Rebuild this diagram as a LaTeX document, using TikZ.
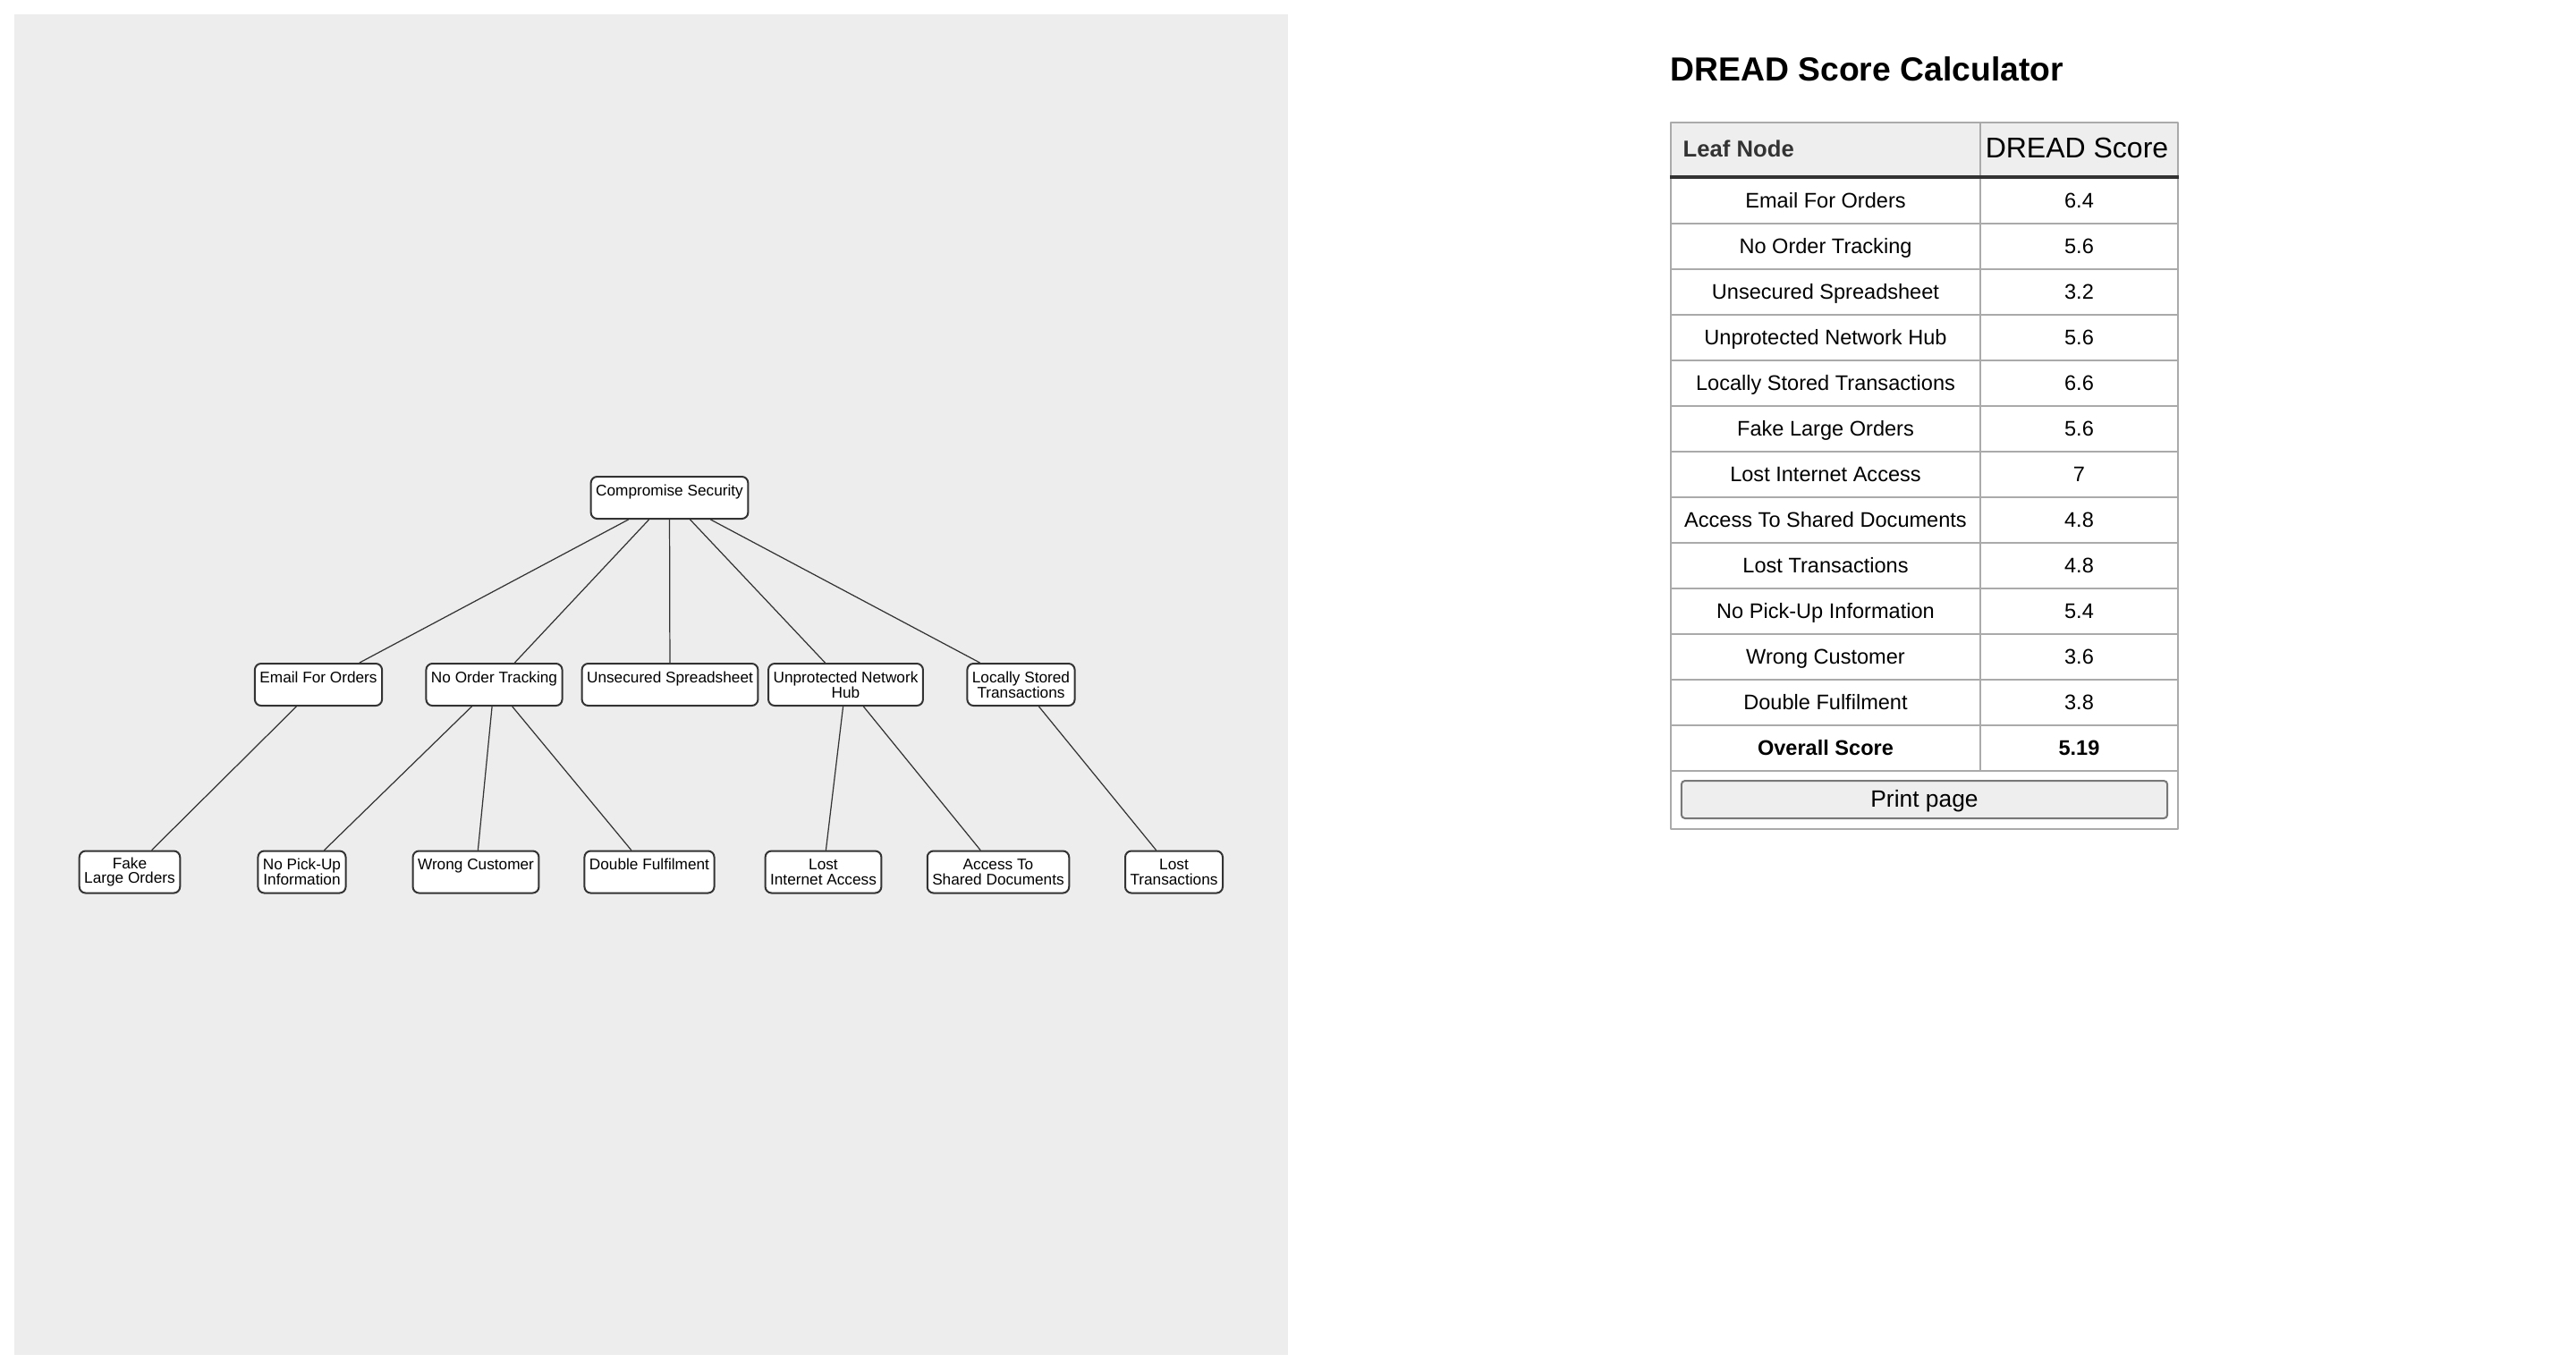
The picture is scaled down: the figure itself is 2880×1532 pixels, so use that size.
\documentclass[tikz,border=0pt]{standalone}
\usepackage{fontspec}
\setmainfont{Liberation Sans}
\usepackage{xcolor}
\definecolor{panelgray}{HTML}{EDEDED}
\definecolor{boxline}{HTML}{333333}
\definecolor{gridgray}{HTML}{AAAAAA}
\definecolor{headgray}{HTML}{EEEEEE}
\definecolor{btnline}{HTML}{777777}
\newcommand{\treefont}{\fontsize{4.9pt}{4.75pt}\selectfont}
\newcommand{\cellfont}{\fontsize{6.7pt}{8pt}\selectfont}

\begin{document}
\begin{tikzpicture}[x=0.01cm, y=-0.01cm, line cap=round, line join=round]
    \tikzset{
      leaf/.style={draw=boxline, line width=0.57pt, fill=white, rounded corners=0.07cm,
        align=center, font=\treefont, inner xsep=0.055cm, inner ysep=0pt, minimum height=0.47cm},
      edge/.style={draw=boxline, line width=0.35pt},
      cell/.style={draw=gridgray, line width=0.57pt, inner sep=0pt, minimum height=0.51cm,
        font=\cellfont, text height=5pt, text depth=0.33pt},
      colA/.style={cell, minimum width=3.46cm},
      colB/.style={cell, minimum width=2.21cm}
    }
    \useasboundingbox (0,0) rectangle (2880,1532);
    \fill[panelgray] (16,16) rectangle (1440,1515);

    % attack tree
    \node[leaf] (root)    at (748.5,556.5) {Compromise Security\\~};

    \node[leaf] (email)   at (356,765.5)   {Email For Orders\\~};
    \node[leaf] (track)   at (552.5,765.5) {No Order Tracking\\~};
    \node[leaf] (sheet)   at (749,765.5)   {Unsecured Spreadsheet\\~};
    \node[leaf] (hub)     at (945.5,765.5) {Unprotected Network\\Hub};
    \node[leaf] (local)   at (1141.5,765.5) {Locally Stored\\Transactions};

    \node[leaf] (fake)    at (145,975)     {Fake\\Large Orders};
    \node[leaf] (pickup)  at (337.5,975)   {No Pick-Up\\Information};
    \node[leaf] (wrong)   at (532,975)     {Wrong Customer\\~};
    \node[leaf] (double)  at (726,975)     {Double Fulfilment\\~};
    \node[leaf] (lostnet) at (920.5,975)   {Lost\\Internet Access};
    \node[leaf] (access)  at (1116,975)    {Access To\\Shared Documents};
    \node[leaf] (losttx)  at (1312.5,975)  {Lost\\Transactions};

    \draw[edge] (root) -- (email);
    \draw[edge] (root) -- (track);
    \draw[edge] (root) -- (sheet);
    \draw[edge] (root) -- (hub);
    \draw[edge] (root) -- (local);
    \draw[edge] (email) -- (fake);
    \draw[edge] (track) -- (pickup);
    \draw[edge] (track) -- (wrong);
    \draw[edge] (track) -- (double);
    \draw[edge] (hub) -- (lostnet);
    \draw[edge] (hub) -- (access);
    \draw[edge] (local) -- (losttx);

    % score table
    \node[anchor=base west, inner sep=0pt, font=\bfseries\fontsize{10.6pt}{12pt}\selectfont] (title) at (1867,90) {DREAD Score Calculator};

    \node[colA, fill=headgray, minimum height=0.60cm] (hdA) at (2041,167) {};
    \node[colB, fill=headgray, minimum height=0.60cm] (hdB) at (2324.5,167) {};
    \node[anchor=base west, inner sep=0pt, text=boxline, font=\bfseries\fontsize{7.3pt}{9pt}\selectfont] (hdtxtA) at (1881,175) {Leaf Node};
    \node[anchor=base, inner sep=0pt, font=\fontsize{9.1pt}{11pt}\selectfont] (hdtxtB) at (2322,176) {DREAD Score};

    \node[colA] (r1a)  at (2041,224.5)   {Email For Orders};
    \node[colB] (r1b)  at (2324.5,224.5) {6.4};
    \node[colA] (r2a)  at (2041,275.5)   {No Order Tracking};
    \node[colB] (r2b)  at (2324.5,275.5) {5.6};
    \node[colA] (r3a)  at (2041,326.5)   {Unsecured Spreadsheet};
    \node[colB] (r3b)  at (2324.5,326.5) {3.2};
    \node[colA] (r4a)  at (2041,377.5)   {Unprotected Network Hub};
    \node[colB] (r4b)  at (2324.5,377.5) {5.6};
    \node[colA] (r5a)  at (2041,428.5)   {Locally Stored Transactions};
    \node[colB] (r5b)  at (2324.5,428.5) {6.6};
    \node[colA] (r6a)  at (2041,479.5)   {Fake Large Orders};
    \node[colB] (r6b)  at (2324.5,479.5) {5.6};
    \node[colA] (r7a)  at (2041,530.5)   {Lost Internet Access};
    \node[colB] (r7b)  at (2324.5,530.5) {7};
    \node[colA] (r8a)  at (2041,581.5)   {Access To Shared Documents};
    \node[colB] (r8b)  at (2324.5,581.5) {4.8};
    \node[colA] (r9a)  at (2041,632.5)   {Lost Transactions};
    \node[colB] (r9b)  at (2324.5,632.5) {4.8};
    \node[colA] (r10a) at (2041,683.5)   {No Pick-Up Information};
    \node[colB] (r10b) at (2324.5,683.5) {5.4};
    \node[colA] (r11a) at (2041,734.5)   {Wrong Customer};
    \node[colB] (r11b) at (2324.5,734.5) {3.6};
    \node[colA] (r12a) at (2041,785.5)   {Double Fulfilment};
    \node[colB] (r12b) at (2324.5,785.5) {3.8};
    \node[colA, font=\cellfont\bfseries] (r13a) at (2041,836.5)   {Overall Score};
    \node[colB, font=\cellfont\bfseries] (r13b) at (2324.5,836.5) {5.19};

    \draw[draw=boxline, line width=1.1pt, line cap=butt] (hdA.south west) -- (hdB.south east);

    \node[cell, minimum width=5.67cm, minimum height=0.65cm] (btnrow) at (2151.5,894.5) {};
    \node[draw=btnline, fill=headgray, line width=0.57pt, rounded corners=0.04cm, inner sep=0pt,
      minimum width=5.43cm, minimum height=0.42cm, font=\fontsize{7.5pt}{9pt}\selectfont,
      text height=5.4pt, text depth=0.4pt] (btn) at (2151.5,894) {Print page};
  \end{tikzpicture}
\end{document}
